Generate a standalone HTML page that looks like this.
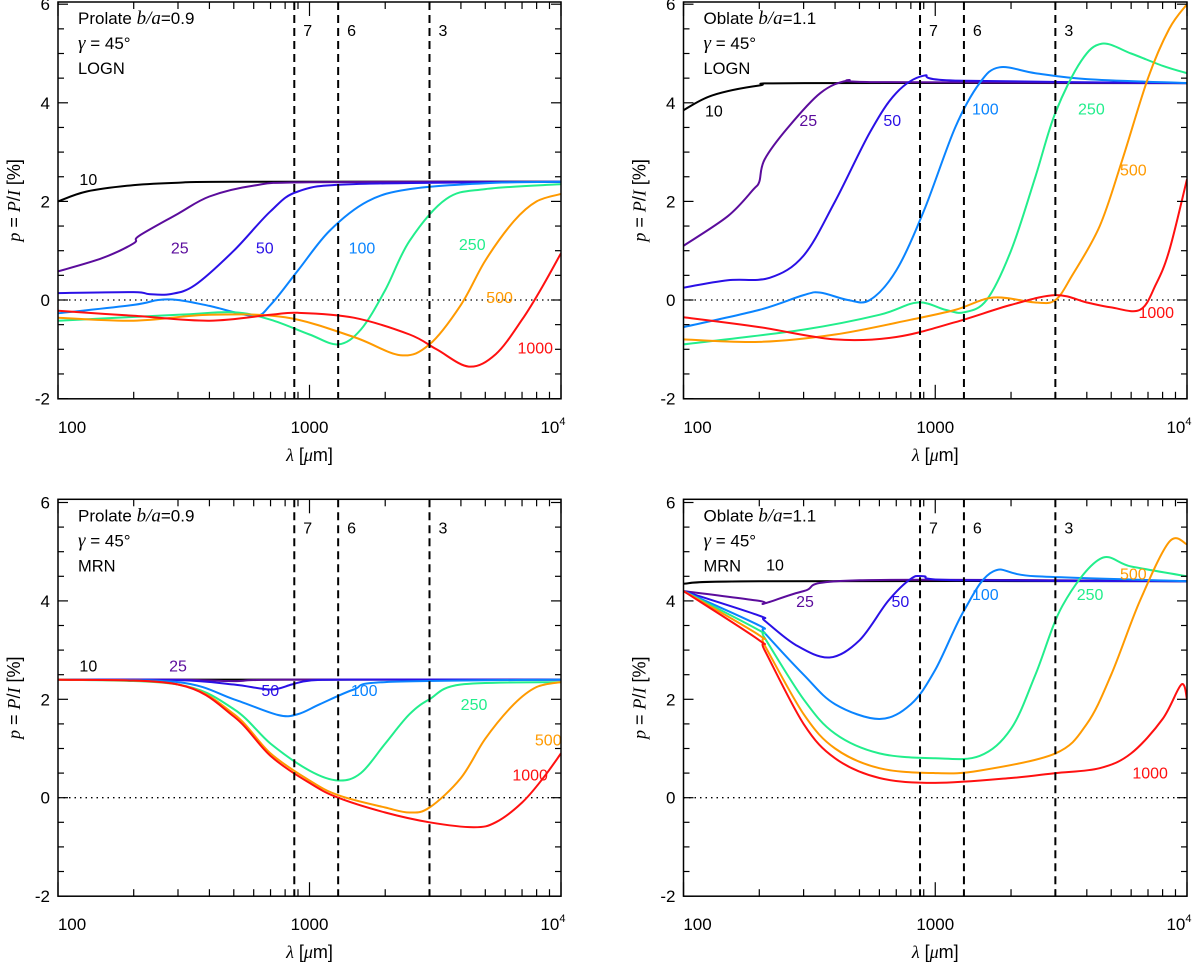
<!DOCTYPE html>
<html><head><meta charset="utf-8">
<style>
body{margin:0;background:#fff;}
svg{display:block;font-family:"Liberation Sans",sans-serif;}
</style></head>
<body>
<svg id="chart" width="1200" height="963" viewBox="0 0 1200 963"></svg>
<script>
const sizes = ["10","25","50","100","250","500","1000"];
const colors = ["#000000","#5b0c9c","#2a10e6","#0a84ff","#22ee8c","#ff9a00","#ff1010"];
const bandWl = [870, 1300, 3000];
const bandLabels = ["7","6","3"];
// [wavelength um, p%] pairs per series
const tl10=[[100,2.0],[130,2.2],[200,2.33],[300,2.38],[500,2.4],[10000,2.4]];
const tl25=[[100,0.58],[150,0.85],[200,1.15],[210,1.3],[300,1.75],[400,2.1],[600,2.32],[1000,2.39],[10000,2.4]];
const tl50=[[100,0.14],[200,0.16],[230,0.12],[280,0.12],[350,0.3],[500,1.0],[700,1.8],[900,2.2],[1500,2.35],[10000,2.4]];
const tl100=[[100,-0.27],[200,-0.1],[250,0.0],[300,0.0],[400,-0.12],[600,-0.32],[700,-0.1],[900,0.6],[1200,1.4],[1700,2.0],[2500,2.25],[5000,2.37],[10000,2.4]];
const tl250=[[100,-0.42],[300,-0.3],[500,-0.25],[700,-0.4],[1000,-0.7],[1300,-0.9],[1600,-0.6],[2000,0.2],[2500,1.2],[3500,2.05],[5000,2.25],[10000,2.35]];
const tl500=[[100,-0.36],[200,-0.42],[400,-0.3],[800,-0.35],[1500,-0.75],[2300,-1.12],[3000,-0.9],[4000,-0.1],[5000,0.8],[6500,1.6],[8000,2.0],[10000,2.15]];
const tl1000=[[100,-0.22],[200,-0.32],[400,-0.42],[700,-0.3],[900,-0.26],[1500,-0.36],[2500,-0.7],[3200,-1.0],[4300,-1.35],[5500,-1.1],[7000,-0.4],[8500,0.3],[10000,0.95]];
const tr10=[[100,3.85],[130,4.15],[200,4.35],[300,4.4],[10000,4.4]];
const tr25=[[100,1.1],[150,1.7],[190,2.25],[200,2.4],[210,2.85],[260,3.5],[350,4.2],[450,4.45],[600,4.42],[10000,4.4]];
const tr50=[[100,0.25],[150,0.4],[220,0.45],[300,0.9],[400,2.0],[550,3.4],[700,4.2],[900,4.55],[1200,4.45],[10000,4.4]];
const tr100=[[100,-0.55],[200,-0.2],[300,0.1],[350,0.15],[450,0.0],[550,0.0],[700,0.6],[900,1.8],[1200,3.5],[1500,4.4],[1800,4.72],[2500,4.6],[4000,4.48],[10000,4.4]];
const tr250=[[100,-0.9],[300,-0.6],[600,-0.3],[850,-0.05],[1100,-0.2],[1300,-0.25],[1600,0.0],[2000,1.0],[2500,2.5],[3000,3.8],[3800,4.85],[4600,5.2],[6000,5.0],[8000,4.75],[10000,4.6]];
const tr500=[[100,-0.8],[200,-0.85],[400,-0.7],[800,-0.4],[1200,-0.2],[1700,0.05],[2500,-0.05],[3000,0.0],[3500,0.5],[4500,1.5],[5500,2.8],[7000,4.5],[8500,5.5],[10000,6.0]];
const tr1000=[[100,-0.35],[200,-0.55],[400,-0.8],[700,-0.75],[1200,-0.45],[2000,-0.1],[3000,0.1],[4000,-0.05],[5000,-0.15],[6500,-0.2],[7500,0.3],[8500,1.0],[10000,2.45]];
const bl10=[[100,2.4],[10000,2.4]];
const bl25=[[100,2.4],[300,2.4],[500,2.37],[800,2.4],[10000,2.4]];
const bl50=[[100,2.4],[300,2.39],[500,2.3],[700,2.2],[850,2.3],[1000,2.38],[1500,2.4],[10000,2.4]];
const bl100=[[100,2.4],[300,2.35],[500,2.0],[750,1.68],[900,1.7],[1100,1.9],[1500,2.2],[2000,2.35],[10000,2.4]];
const bl250=[[100,2.4],[300,2.3],[500,1.8],[700,1.1],[1000,0.55],[1300,0.35],[1600,0.5],[2000,1.1],[2500,1.7],[3000,2.0],[4000,2.3],[10000,2.35]];
const bl500=[[100,2.4],[300,2.3],[500,1.7],[700,0.9],[1000,0.35],[1300,0.05],[2000,-0.2],[2500,-0.3],[3000,-0.2],[4000,0.4],[5000,1.2],[6500,1.9],[8000,2.25],[10000,2.35]];
const bl1000=[[100,2.4],[300,2.3],[500,1.65],[700,0.85],[1000,0.3],[1300,0.0],[2000,-0.3],[3000,-0.5],[4500,-0.6],[5500,-0.5],[7000,-0.1],[8500,0.4],[10000,0.9]];
const br10=[[100,4.35],[200,4.4],[10000,4.4]];
const br25=[[100,4.2],[200,4.0],[210,3.95],[300,4.2],[500,4.42],[10000,4.4]];
const br50=[[100,4.2],[200,3.7],[210,3.6],[280,3.1],[380,2.85],[500,3.2],[650,4.0],[800,4.45],[900,4.5],[1200,4.42],[10000,4.4]];
const br100=[[100,4.2],[200,3.5],[210,3.35],[300,2.5],[400,1.9],[600,1.6],[800,1.9],[1000,2.6],[1300,3.8],[1700,4.6],[2500,4.5],[10000,4.4]];
const br250=[[100,4.2],[200,3.4],[210,3.25],[300,2.0],[400,1.3],[600,0.9],[1000,0.8],[1500,0.85],[2000,1.4],[2500,2.5],[3200,3.9],[4500,4.85],[6000,4.7],[10000,4.5]];
const br500=[[100,4.2],[200,3.3],[210,3.1],[300,1.7],[400,1.0],[600,0.6],[1000,0.5],[1500,0.55],[3000,0.9],[4000,1.5],[5000,2.5],[6500,4.0],[8500,5.2],[10000,5.15]];
const br1000=[[100,4.2],[200,3.2],[210,3.0],[300,1.5],[400,0.8],[600,0.4],[1000,0.3],[2000,0.4],[3000,0.5],[4500,0.6],[6000,0.9],[8000,1.6],[9500,2.3],[10000,2.0]];
const panelSeries=[[tl10,tl25,tl50,tl100,tl250,tl500,tl1000],[tr10,tr25,tr50,tr100,tr250,tr500,tr1000],[bl10,bl25,bl50,bl100,bl250,bl500,bl1000],[br10,br25,br50,br100,br250,br500,br1000]];
const panelTitles=[["Prolate","b/a","0.9","LOGN"],["Oblate","b/a","1.1","LOGN"],["Prolate","b/a","0.9","MRN"],["Oblate","b/a","1.1","MRN"]];
const labelWl=[[132,305,664,1616,4438,5700,7900],[132,313,675,1581,4170,6120,7550],[132,300,698,1650,4510,8900,7540],[231,304,727,1581,4120,6120,7140]];
const labelP=[[2.45,1.06,1.06,1.06,1.14,0.06,-0.96],[3.84,3.65,3.65,3.88,3.88,2.65,-0.24],[2.69,2.69,2.19,2.19,1.9,1.18,0.47],[4.74,4.0,4.0,4.14,4.14,4.56,0.51]];

const NS="http://www.w3.org/2000/svg";
const svg=document.getElementById('chart');
function mk(tag,attrs,parent){const e=document.createElementNS(NS,tag);for(const k in attrs)e.setAttribute(k,attrs[k]);(parent||svg).appendChild(e);return e;}
const geoms=[{x0:58,x1:561,yZero:300,u:49.3,top:2,bot:398.8},{x0:683.5,x1:1187,yZero:300,u:49.3,top:2,bot:398.8},{x0:58,x1:561,yZero:797.7,u:49.2,top:499.3,bot:896.2},{x0:683.5,x1:1187,yZero:797.7,u:49.2,top:499.3,bot:896.2}];

geoms.forEach((g,pi)=>{
  const xs=w=>g.x0+(Math.log10(w)-2)/2*(g.x1-g.x0);
  const ys=v=>g.yZero-v*g.u;
  const grp=mk('g',{});
  
  
  const clipId='clip'+pi;
  const cp=mk('clipPath',{id:clipId},grp);mk('rect',{x:g.x0,y:g.top,width:g.x1-g.x0,height:g.bot-g.top},cp);
  const z=mk('line',{x1:g.x0,x2:g.x1,y1:ys(0),y2:ys(0),stroke:'#000','stroke-width':1.3,'stroke-dasharray':'1.5 4'},grp);
  
  panelSeries[pi].forEach((s,si)=>{
    const pts=s.map(p=>[xs(p[0]),ys(p[1])]);
    let d='M'+pts[0][0].toFixed(1)+','+pts[0][1].toFixed(1);
    for(let i=0;i<pts.length-1;i++){
      const p0=pts[Math.max(0,i-1)],p1=pts[i],p2=pts[i+1],p3=pts[Math.min(pts.length-1,i+2)];
      const c1=[p1[0]+(p2[0]-p0[0])/6,p1[1]+(p2[1]-p0[1])/6];
      const c2=[p2[0]-(p3[0]-p1[0])/6,p2[1]-(p3[1]-p1[1])/6];
      d+=' C'+c1[0].toFixed(1)+','+c1[1].toFixed(1)+' '+c2[0].toFixed(1)+','+c2[1].toFixed(1)+' '+p2[0].toFixed(1)+','+p2[1].toFixed(1);
    }
    const path=mk('path',{d:d,fill:'none',stroke:colors[si],'stroke-width':2,'clip-path':'url(#'+clipId+')'},grp);
    
    
    const t=mk('text',{x:xs(labelWl[pi][si]),y:ys(labelP[pi][si])+6,fill:colors[si],'font-size':16,'text-anchor':'middle'},grp);
    t.textContent=sizes[si];
    
    
  });
  bandWl.forEach((w,bi)=>{
    const l=mk('line',{x1:xs(w),x2:xs(w),y1:g.top,y2:g.bot,stroke:'#000','stroke-width':2,'stroke-dasharray':'8 5'},grp);
    
    
    const t=mk('text',{x:xs(w)+9,y:g.top+34,'font-size':16},grp);
    t.textContent=bandLabels[bi];
    
    
  });
  const fr=mk('rect',{x:g.x0,y:g.top,width:g.x1-g.x0,height:g.bot-g.top,fill:'none',stroke:'#000','stroke-width':1.5},grp);
  
  for(let dec=100;dec<=10000;dec*=10){
    for(let m=1;m<=9;m++){
      const w=dec*m;if(w>10000)break;
      const L=(m===1)?14:7;const x=xs(w);
      mk('line',{x1:x,x2:x,y1:g.bot,y2:g.bot-L,stroke:'#000','stroke-width':1.2},grp);
      mk('line',{x1:x,x2:x,y1:g.top,y2:g.top+L,stroke:'#000','stroke-width':1.2},grp);
    }
  }
  for(let v=-2;v<=6.001;v+=0.5){
    const L=(Math.abs(v%2)<0.01)?10:6;const y=ys(v);
    mk('line',{x1:g.x0,x2:g.x0+L,y1:y,y2:y,stroke:'#000','stroke-width':1.2},grp);
    mk('line',{x1:g.x1,x2:g.x1-L,y1:y,y2:y,stroke:'#000','stroke-width':1.2},grp);
    if(L===10){
      const t=mk('text',{x:g.x0-8,y:y+6,'font-size':17,'text-anchor':'end'},grp);
      t.textContent=String(Math.round(v));
      
    }
  }
  const xl1=mk('text',{x:g.x0+14,y:g.bot+34,'font-size':17,'text-anchor':'middle'},grp);xl1.textContent='100';
  
  const xl2=mk('text',{x:(g.x0+g.x1)/2,y:g.bot+34,'font-size':17,'text-anchor':'middle'},grp);xl2.textContent='1000';
  
  const xl3=mk('text',{x:g.x1-8,y:g.bot+34,'font-size':17,'text-anchor':'middle'},grp);
  xl3.innerHTML='10<tspan font-size="11" dy="-8">4</tspan>';
  
  const xt=mk('text',{x:(g.x0+g.x1)/2,y:g.bot+62,'font-size':18,'text-anchor':'middle'},grp);
  xt.innerHTML='<tspan font-family="Liberation Serif" font-style="italic">λ</tspan> [<tspan font-family="Liberation Serif" font-style="italic">μ</tspan>m]';
  
  const yc=(g.top+g.bot)/2;const yx=g.x0-38;
  const yt=mk('text',{x:yx,y:yc,'font-size':18,'text-anchor':'middle',transform:'rotate(-90 '+yx+' '+yc+')'},grp);
  yt.innerHTML='<tspan font-family="Liberation Serif" font-style="italic">p</tspan> = <tspan font-family="Liberation Serif" font-style="italic">P</tspan>/<tspan font-family="Liberation Serif" font-style="italic">I</tspan> [%]';
  
  const pt=panelTitles[pi];
  const a1=mk('text',{x:g.x0+20,y:g.top+22,'font-size':17},grp);
  a1.innerHTML=pt[0]+' <tspan font-family="Liberation Serif" font-style="italic" font-size="19">'+pt[1]+'</tspan>='+pt[2];
  
  const a2=mk('text',{x:g.x0+20,y:g.top+47,'font-size':17},grp);
  a2.innerHTML='<tspan font-family="Liberation Serif" font-style="italic" font-size="19">γ</tspan> = 45°';
  
  const a3=mk('text',{x:g.x0+20,y:g.top+72,'font-size':16.5},grp);
  a3.textContent=pt[3];
  
});
</script>
</body></html>
